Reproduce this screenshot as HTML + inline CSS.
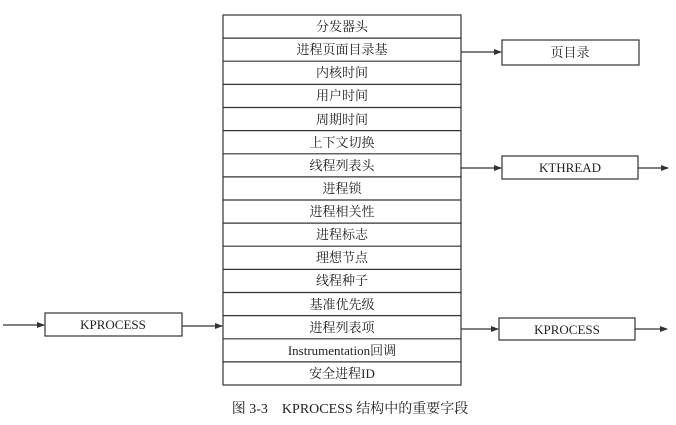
<!DOCTYPE html>
<html><head><meta charset="utf-8"><style>
html,body{margin:0;padding:0;background:#fff;}
svg{display:block;}
text{font-family:"Liberation Serif","Noto Serif CJK SC",serif;fill:#222;}
</style></head><body>
<svg width="676" height="425" viewBox="0 0 676 425" xmlns="http://www.w3.org/2000/svg">
<defs><marker id="a" markerWidth="8" markerHeight="6" refX="7" refY="3" orient="auto" markerUnits="userSpaceOnUse"><path d="M0,0 L8,3 L0,6 z" fill="#333"/></marker></defs>
<g stroke="#333" stroke-width="1.2" fill="none">
<rect x="223" y="15" width="238" height="370"/>
<line x1="223" y1="38.1" x2="461" y2="38.1"/><line x1="223" y1="61.2" x2="461" y2="61.2"/><line x1="223" y1="84.4" x2="461" y2="84.4"/><line x1="223" y1="107.5" x2="461" y2="107.5"/><line x1="223" y1="130.6" x2="461" y2="130.6"/><line x1="223" y1="153.8" x2="461" y2="153.8"/><line x1="223" y1="176.9" x2="461" y2="176.9"/><line x1="223" y1="200" x2="461" y2="200"/><line x1="223" y1="223.1" x2="461" y2="223.1"/><line x1="223" y1="246.2" x2="461" y2="246.2"/><line x1="223" y1="269.4" x2="461" y2="269.4"/><line x1="223" y1="292.5" x2="461" y2="292.5"/><line x1="223" y1="315.6" x2="461" y2="315.6"/><line x1="223" y1="338.8" x2="461" y2="338.8"/><line x1="223" y1="361.9" x2="461" y2="361.9"/>
<rect x="502" y="40" width="137" height="25"/>
<rect x="502" y="156" width="136" height="23"/>
<rect x="45" y="313" width="137" height="23"/>
<rect x="499" y="318" width="136" height="22"/>
<line x1="461" y1="52" x2="501" y2="52" marker-end="url(#a)"/>
<line x1="461" y1="168" x2="501" y2="168" marker-end="url(#a)"/>
<line x1="638" y1="168" x2="668" y2="168" marker-end="url(#a)"/>
<line x1="3" y1="325" x2="44" y2="325" marker-end="url(#a)"/>
<line x1="182" y1="326" x2="222" y2="326" marker-end="url(#a)"/>
<line x1="461" y1="329" x2="498" y2="329" marker-end="url(#a)"/>
<line x1="635" y1="329" x2="667" y2="329" marker-end="url(#a)"/>
</g>
<g font-size="13" text-anchor="middle">
<text x="342" y="31">分发器头</text>
<text x="342" y="54">进程页面目录基</text>
<text x="342" y="77">内核时间</text>
<text x="342" y="100">用户时间</text>
<text x="342" y="124">周期时间</text>
<text x="342" y="147">上下文切换</text>
<text x="342" y="170">线程列表头</text>
<text x="342" y="193">进程锁</text>
<text x="342" y="216">进程相关性</text>
<text x="342" y="239">进程标志</text>
<text x="342" y="262">理想节点</text>
<text x="342" y="285">线程种子</text>
<text x="342" y="309">基准优先级</text>
<text x="342" y="332">进程列表项</text>
<text x="342" y="355">Instrumentation回调</text>
<text x="342" y="378">安全进程ID</text>
<text x="570" y="57">页目录</text>
<text x="570" y="172">KTHREAD</text>
<text x="113" y="329">KPROCESS</text>
<text x="567" y="334">KPROCESS</text>
</g>
<text x="350" y="413" font-size="14" text-anchor="middle">图 3-3　KPROCESS 结构中的重要字段</text>
</svg>
</body></html>
